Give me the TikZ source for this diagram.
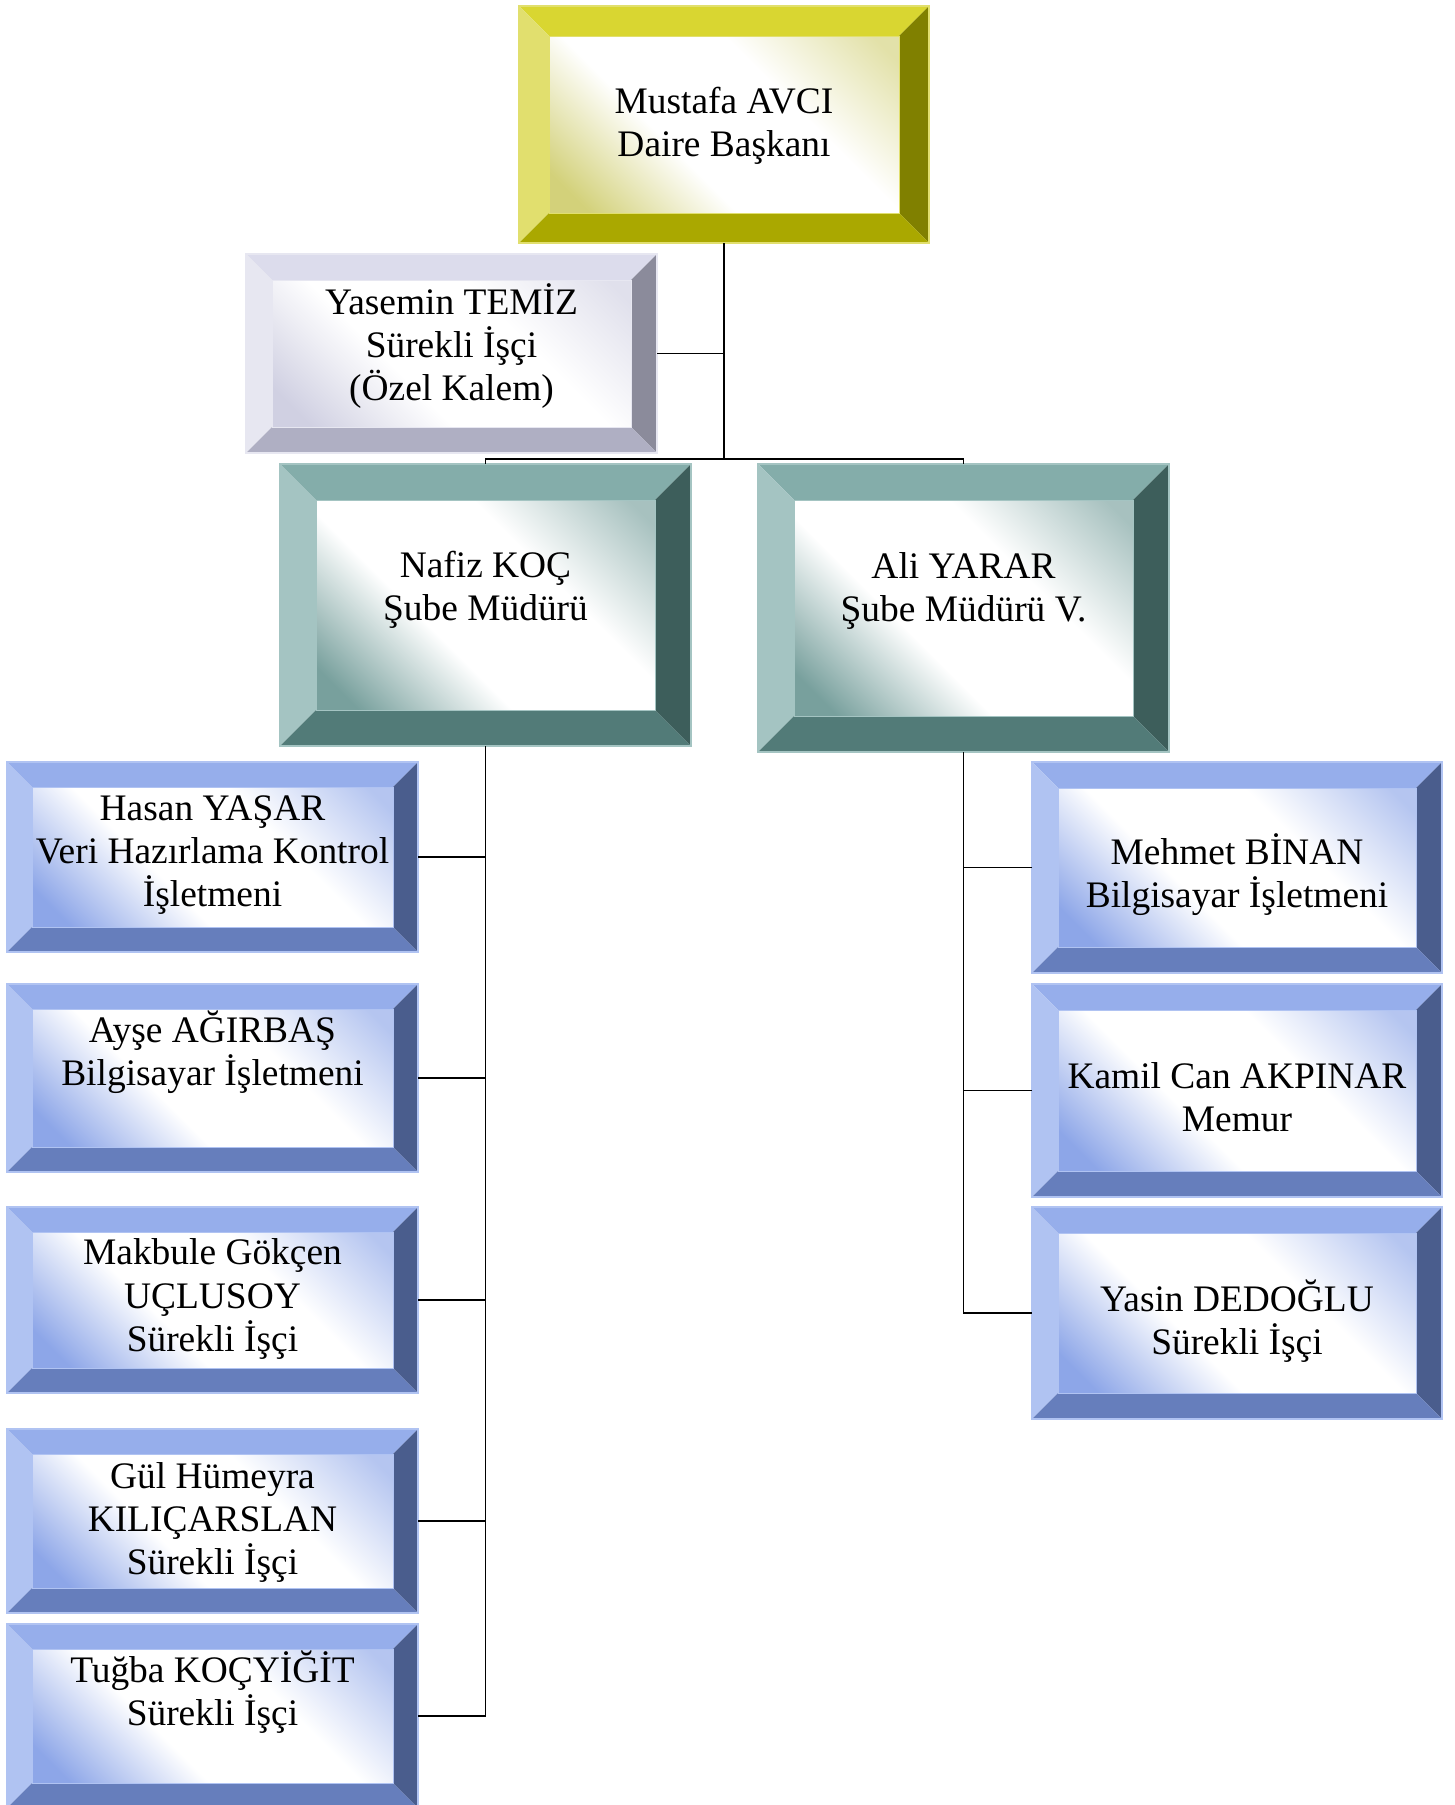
\documentclass[tikz,border=0pt]{standalone}
\usepackage{fontspec}
\setmainfont{Liberation Serif}
\usetikzlibrary{fit}

% bevel colours: top, left, right, bottom, inner glow
\definecolor{yTop}{HTML}{D9D631}
\definecolor{yLeft}{HTML}{E1DF6E}
\definecolor{yRight}{HTML}{808000}
\definecolor{yBot}{HTML}{AAA800}
\definecolor{yGlow}{HTML}{D3D17A}
\definecolor{lTop}{HTML}{DCDCEC}
\definecolor{lLeft}{HTML}{E7E7F1}
\definecolor{lRight}{HTML}{8B8B9B}
\definecolor{lBot}{HTML}{AFAFC3}
\definecolor{lGlow}{HTML}{D0D0E2}
\definecolor{tTop}{HTML}{84ADAA}
\definecolor{tLeft}{HTML}{A4C4C2}
\definecolor{tRight}{HTML}{3D5E5B}
\definecolor{tBot}{HTML}{527B78}
\definecolor{tGlow}{HTML}{78A09D}
\definecolor{bTop}{HTML}{96AEEB}
\definecolor{bLeft}{HTML}{B0C3F2}
\definecolor{bRight}{HTML}{4A5D8D}
\definecolor{bBot}{HTML}{667EBC}
\definecolor{bGlow}{HTML}{8DA6E8}
\colorlet{glowc}{bGlow}

% inner face: colour in the lower left and upper right corners, white between
\pgfdeclareverticalshading[glowc]{glow}{100bp}{color(0bp)=(glowc);
  color(20bp)=(glowc); color(40bp)=(white); color(62bp)=(white);
  color(82bp)=(glowc!65!white); color(100bp)=(glowc!65!white)}

\newcommand{\boxstrut}{\lineskiplimit=-50pt\relax\strut}

\tikzset{
  bevelw/.store in=\bevelw, bevelw=25,
  % a framed box with four bevel faces and a shaded face in the middle
  bevelbox/.style n args={5}{
    rectangle, inner sep=0pt, outer sep=0pt, draw=#2, line width=0.6pt,
    path picture={
      \path (path picture bounding box.north west) coordinate (p1)
            (path picture bounding box.north east) coordinate (p2)
            (path picture bounding box.south east) coordinate (p3)
            (path picture bounding box.south west) coordinate (p4);
      \path ([shift={(\bevelw,\bevelw)}]p1) coordinate (q1)
            ([shift={(-\bevelw,\bevelw)}]p2) coordinate (q2)
            ([shift={(-\bevelw,-\bevelw)}]p3) coordinate (q3)
            ([shift={(\bevelw,-\bevelw)}]p4) coordinate (q4);
      \fill[#1] (p1) -- (p2) -- (q2) -- (q1) -- cycle;
      \fill[#2] (p1) -- (q1) -- (q4) -- (p4) -- cycle;
      \fill[#3] (p2) -- (p3) -- (q3) -- (q2) -- cycle;
      \fill[#4] (p4) -- (p3) -- (q3) -- (q4) -- cycle;
      \colorlet{glowc}{#5}
      \shade[shading=glow, shading angle=-45] (q1) rectangle (q3);
      \draw[#2, line width=0.5pt] (q1) rectangle (q3);
    }},
  yellowbox/.style={bevelbox={yTop}{yLeft}{yRight}{yBot}{yGlow}, bevelw=30},
  lilacbox/.style={bevelbox={lTop}{lLeft}{lRight}{lBot}{lGlow}, bevelw=26},
  tealbox/.style={bevelbox={tTop}{tLeft}{tRight}{tBot}{tGlow}, bevelw=36},
  bluebox/.style={bevelbox={bTop}{bLeft}{bRight}{bBot}{bGlow}, bevelw=25},
  boxtext/.style={align=center, inner sep=0pt,
    font=\fontsize{21.3}{24.5}\selectfont,
    execute at begin node=\boxstrut, execute at end node=\strut},
  link/.style={line width=1.1pt, black}
}

\begin{document}
\begin{tikzpicture}[x=0.02cm, y=-0.02cm]
\useasboundingbox (0,0) rectangle (1454,1805);
% Head of department and private office
\node[yellowbox, fit={(519,6) (929,243)}] (chief) {};
\node[lilacbox, fit={(246,254) (657,453)}] (yasemin) {};
% Branch managers
\node[tealbox, fit={(280,464) (691,746)}] (nafiz) {};
\node[tealbox, fit={(758,464) (1169,752)}] (ali) {};
% Staff under the left branch
\foreach \n/\ya/\yb in {hasan/762/952, ayse/984/1172, makbule/1207/1393,
                        gul/1429/1613, tugba/1624/1808}
  \node[bluebox, fit={(7,\ya) (418,\yb)}] (\n) {};
% Staff under the right branch
\foreach \n/\ya/\yb in {mehmet/762/973, kamil/984/1197, yasin/1207/1419}
  \node[bluebox, bevelw=26, fit={(1032,\ya) (1442,\yb)}] (\n) {};

% Texts
\node[boxtext] (chief-t) at (724,128) {Mustafa AVCI\\Daire Başkanı};
\node[boxtext] (yasemin-t) at (451.5,348.5) {Yasemin TEMİZ\\Sürekli İşçi\\(Özel Kalem)};
\node[boxtext] (nafiz-t) at (485.5,592) {Nafiz KOÇ\\Şube Müdürü};
\node[boxtext] (ali-t) at (963.5,593) {Ali YARAR\\Şube Müdürü V.};
\node[boxtext] (hasan-t) at (212.5,858) {Hasan YAŞAR\\Veri Hazırlama Kontrol\\İşletmeni};
\node[boxtext] (ayse-t) at (212.5,1055) {Ayşe AĞIRBAŞ\\Bilgisayar İşletmeni};
\node[boxtext] (makbule-t) at (212.5,1301.5) {Makbule Gökçen\\UÇLUSOY\\Sürekli İşçi};
\node[boxtext] (gul-t) at (212.5,1524.5) {Gül Hümeyra\\KILIÇARSLAN\\Sürekli İşçi};
\node[boxtext] (tugba-t) at (212.5,1694.5) {Tuğba KOÇYİĞİT\\Sürekli İşçi};
\node[boxtext] (mehmet-t) at (1237,877) {Mehmet BİNAN\\Bilgisayar İşletmeni};
\node[boxtext] (kamil-t) at (1237,1103) {Kamil Can AKPINAR\\Memur};
\node[boxtext] (yasin-t) at (1237,1324) {Yasin DEDOĞLU\\Sürekli İşçi};

% Connectors
\coordinate (bus) at (724,459);
\draw[link] (chief.south) -- (bus);
\draw[link] (yasemin.east) -- (yasemin.east -| bus);
\draw[link] (nafiz.north) |- (bus) -| (ali.north);
\draw[link] (nafiz.south) |- (tugba.east);
\foreach \n in {hasan, ayse, makbule, gul}
  \draw[link] (\n.east) -- (\n.east -| nafiz.south);
\draw[link] (ali.south) |- (yasin.west);
\foreach \n in {mehmet, kamil}
  \draw[link] (\n.west) -- (\n.west -| ali.south);
\end{tikzpicture}
\end{document}
